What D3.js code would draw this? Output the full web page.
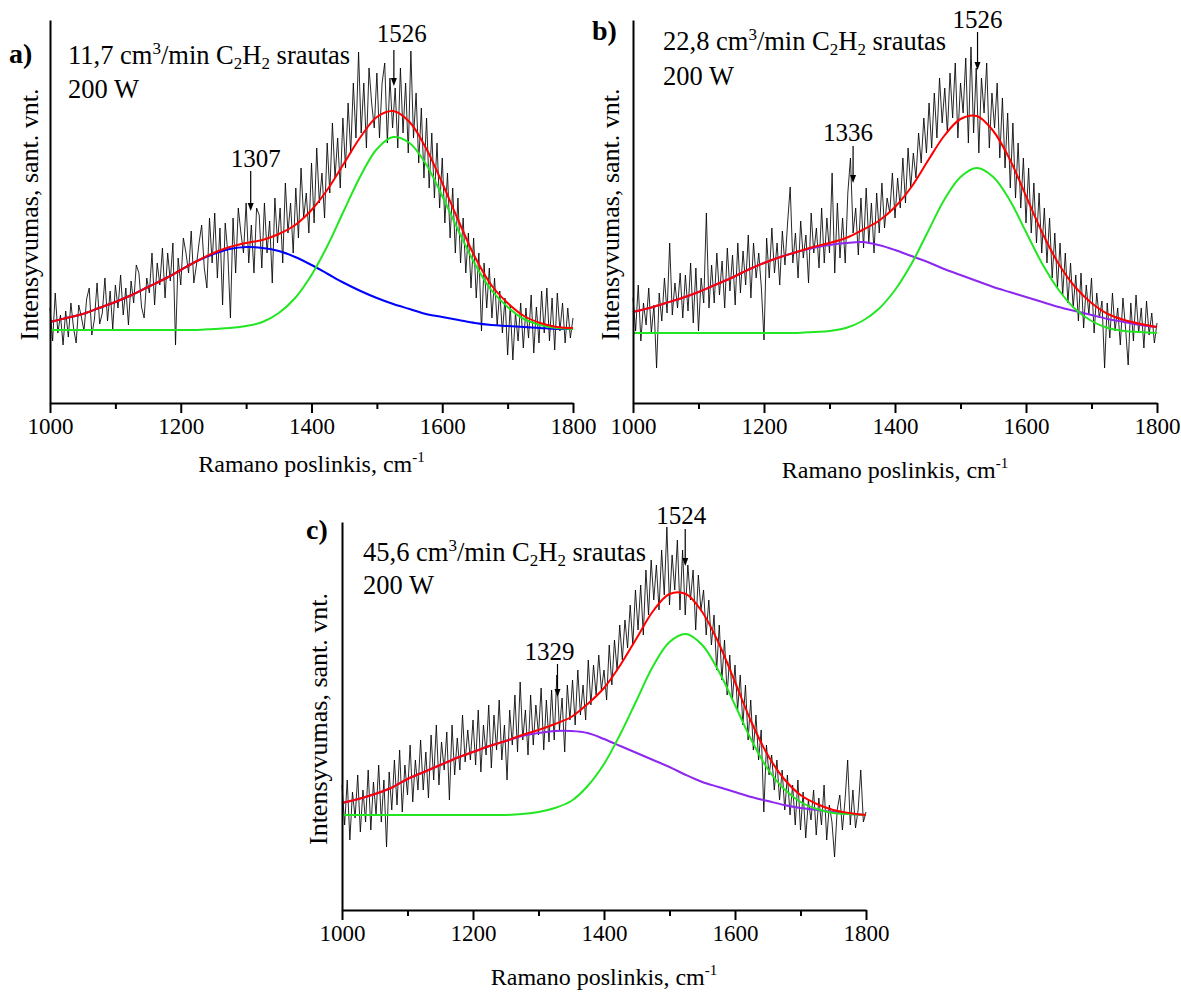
<!DOCTYPE html>
<html>
<head>
<meta charset="utf-8">
<script src="https://cdn.jsdelivr.net/npm/d3@7"></script>
<style>
  body { margin: 0; background: #fff; }
  svg { display: block; }
</style>
</head>
<body>
<svg id="chart" width="1181" height="994"></svg>
<script>
// Raman shift grid of the measured spectra (cm-1) and of the fitted curves
const spectrumShift = d3.range(1000, 1801, 4);
const fitShift = [1000, 1025, 1050, 1075, 1100, 1125, 1150, 1175, 1200, 1225,
                  1250, 1275, 1300, 1325, 1350, 1375, 1400, 1425, 1450, 1475,
                  1500, 1525, 1550, 1575, 1600, 1625, 1650, 1675, 1700, 1725,
                  1750, 1775, 1800];

// a) 11,7 cm3/min
const spectrumA = [
  95, 62, 110, 70, 88, 58, 92, 66, 100, 75,
  60, 98, 86, 72, 104, 115, 68, 84, 120, 79,
  90, 125, 82, 112, 74, 118, 95, 128, 88, 115,
  78, 122, 100, 138, 130, 96, 85, 125, 110, 150,
  98, 140, 118, 155, 105, 150, 122, 160, 58, 145,
  118, 165, 150, 130, 172, 120, 138, 160, 178, 135,
  115, 185, 140, 190, 125, 175, 98, 180, 150, 85,
  185, 130, 195, 170, 150, 200, 140, 178, 130, 195,
  188, 135, 200, 150, 182, 120, 205, 160, 195, 140,
  220, 170, 200, 150, 215, 165, 235, 185, 210, 170,
  240, 180, 255, 200, 230, 185, 260, 210, 280, 225,
  265, 215, 285, 235, 300, 250, 320, 265, 351, 270,
  320, 255, 335, 300, 275, 330, 265, 320, 340, 260,
  325, 275, 315, 255, 335, 270, 320, 250, 352, 265,
  310, 240, 295, 225, 285, 215, 270, 205, 260, 195,
  245, 180, 230, 165, 215, 150, 205, 140, 185, 130,
  170, 115, 165, 105, 150, 72, 140, 95, 135, 85,
  125, 78, 112, 70, 105, 48, 98, 43, 90, 62,
  100, 55, 95, 65, 108, 50, 96, 60, 112, 70,
  115, 62, 105, 53, 110, 72, 100, 60, 95, 65,
  85
];
const band1A = [81, 85, 89, 95, 101, 108, 116, 124, 133, 142,
                149, 154, 156, 155, 152, 146, 138, 129, 120, 112,
                105, 99, 94, 89, 86, 83, 80, 78, 77, 76,
                75, 74, 74];
const band2A = [73, 73, 73, 73, 73, 73, 73, 73, 73, 73,
                74, 75, 77, 81, 90, 105, 128, 158, 193, 227,
                254, 266, 260, 239, 207, 172, 139, 113, 96, 84,
                78, 75, 74];
const sumA = [81, 85, 89, 95, 101, 108, 116, 124, 133, 142,
              150, 156, 160, 163, 169, 178, 193, 214, 240, 266,
              286, 292, 281, 255, 220, 182, 146, 118, 100, 87,
              80, 76, 75];
const peaksA = [1307, 1526];

// b) 22,8 cm3/min
const spectrumB = [
  105, 72, 118, 62, 100, 78, 115, 70, 98, 35,
  110, 82, 125, 90, 160, 88, 120, 95, 130, 85,
  128, 92, 140, 80, 135, 72, 125, 100, 190, 95,
  138, 100, 150, 108, 142, 95, 155, 112, 148, 98,
  160, 110, 152, 118, 168, 105, 160, 125, 150, 115,
  63, 165, 125, 175, 130, 160, 118, 172, 138, 180,
  216, 140, 170, 125, 182, 145, 168, 120, 190, 150,
  175, 135, 195, 140, 185, 150, 230, 130, 200, 145,
  185, 140, 210, 245, 170, 195, 148, 205, 155, 215,
  160, 200, 150, 210, 170, 220, 175, 205, 190, 230,
  185, 225, 195, 245, 200, 255, 215, 250, 225, 270,
  240, 285, 250, 300, 255, 310, 265, 325, 280, 315,
  270, 330, 285, 340, 265, 320, 290, 345, 260, 356,
  270, 335, 250, 325, 290, 340, 255, 310, 275, 320,
  245, 305, 235, 290, 215, 280, 205, 260, 195, 245,
  180, 235, 170, 220, 160, 210, 150, 195, 140, 185,
  125, 170, 115, 160, 108, 150, 100, 140, 95, 128,
  82, 130, 75, 118, 88, 125, 70, 110, 85, 102,
  35, 100, 65, 110, 72, 95, 58, 105, 75, 38,
  100, 62, 108, 70, 95, 55, 102, 68, 90, 60,
  80
];
const band1B = [91, 95, 100, 105, 111, 118, 125, 133, 140, 146,
                151, 155, 158, 160, 161, 158, 153, 147, 141, 134,
                128, 122, 116, 111, 106, 101, 96, 92, 88, 84,
                81, 78, 76];
const band2B = [70, 70, 70, 70, 70, 70, 70, 70, 70, 70,
                70, 71, 72, 75, 82, 94, 113, 139, 171, 203,
                226, 235, 226, 203, 171, 139, 113, 94, 82, 75,
                72, 71, 70];
const sumB = [91, 95, 100, 105, 111, 118, 125, 133, 140, 146,
              151, 156, 160, 165, 173, 182, 196, 216, 242, 267,
              284, 287, 272, 244, 207, 170, 139, 116, 100, 89,
              83, 79, 76];
const peaksB = [1336, 1526];

// c) 45,6 cm3/min
const spectrumC = [
  125, 85, 130, 70, 118, 92, 135, 78, 120, 88,
  140, 80, 128, 95, 145, 88, 130, 63, 138, 100,
  150, 105, 160, 98, 145, 115, 165, 108, 150, 120,
  170, 120, 158, 112, 175, 130, 185, 125, 168, 140,
  178, 110, 185, 135, 172, 140, 195, 148, 180, 150,
  190, 145, 200, 138, 185, 155, 205, 142, 195, 160,
  210, 150, 185, 130, 200, 165, 215, 158, 228, 170,
  200, 155, 215, 165, 205, 175, 222, 160, 210, 168,
  220, 170, 235, 180, 212, 158, 225, 190, 230, 185,
  240, 195, 225, 190, 250, 205, 245, 215, 255, 220,
  240, 210, 265, 225, 270, 240, 285, 250, 290, 262,
  305, 265, 320, 280, 325, 275, 340, 295, 350, 310,
  345, 300, 360, 315, 383, 305, 355, 320, 370, 300,
  360, 295, 345, 310, 340, 280, 335, 300, 320, 275,
  310, 265, 295, 240, 285, 230, 270, 215, 255, 210,
  245, 200, 235, 185, 225, 170, 210, 160, 195, 150,
  180, 98, 165, 135, 155, 120, 150, 110, 140, 100,
  135, 95, 125, 85, 130, 80, 118, 72, 110, 90,
  120, 75, 112, 85, 125, 70, 105, 88, 53, 100,
  115, 80, 110, 150, 85, 120, 82, 100, 140, 88,
  98
];
const band1C = [107, 111, 116, 122, 131, 138, 145, 152, 158, 164,
                169, 174, 177, 179, 179, 177, 171, 164, 157, 150,
                143, 135, 128, 123, 118, 113, 109, 105, 102, 100,
                98, 96, 95];
const band2C = [95, 95, 95, 95, 95, 95, 95, 95, 95, 95,
                95, 96, 98, 102, 109, 124, 146, 176, 210, 244,
                268, 276, 265, 239, 205, 170, 141, 121, 108, 101,
                97, 96, 95];
const sumC = [107, 111, 116, 122, 131, 138, 145, 152, 158, 164,
              169, 175, 180, 186, 193, 206, 222, 245, 272, 299,
              316, 316, 298, 267, 228, 188, 155, 131, 115, 106,
              100, 97, 95];
const peaksC = [1329, 1524];

const flowLabels = ["11,7", "22,8", "45,6"];
const panelLetters = ["a)", "b)", "c)"];
const majorTicks = [1000, 1200, 1400, 1600, 1800];
const minorTicks = [1100, 1300, 1500, 1700];

const serif = "'Liberation Serif', 'Times New Roman', serif";
const svg = d3.select("#chart");

// layout of each panel (pixels)
const panels = [
  { left: 50, right: 573, top: 20, bottom: 403, yMax: 383,
    spectrum: spectrumA, band1: band1A, band2: band2A, sum: sumA, band1Color: "#0000ff",
    peaks: peaksA, letter: [9, 63], info: [68, 64, 98],
    peakLayout: [{ dx: 5, label: 167, y1: 171, y2: 211 }, { dx: 8, label: 42, y1: 50, y2: 86 }],
    xTitle: 472, yTitle: 38 },
  { left: 633, right: 1157, top: 20, bottom: 403, yMax: 383,
    spectrum: spectrumB, band1: band1B, band2: band2B, sum: sumB, band1Color: "#8c28f0",
    peaks: peaksB, letter: [592, 40], info: [663, 50, 85],
    peakLayout: [{ dx: -5, label: 141, y1: 146, y2: 183 }, { dx: 0, label: 28, y1: 32, y2: 70 }],
    xTitle: 478, yTitle: 619 },
  { left: 342, right: 866, top: 522, bottom: 910, yMax: 388,
    spectrum: spectrumC, band1: band1C, band2: band2C, sum: sumC, band1Color: "#8c28f0",
    peaks: peaksC, letter: [306, 539], info: [363, 561, 594],
    peakLayout: [{ dx: -8, label: 660, y1: 664, y2: 697 }, { dx: -4, label: 524, y1: 529, y2: 566 }],
    xTitle: 985, yTitle: 327 }
];

panels.forEach((p, i) => {
  const x = d3.scaleLinear().domain([1000, 1800]).range([p.left, p.right]);
  const y = d3.scaleLinear().domain([0, p.yMax]).range([p.bottom, p.top]);
  const g = svg.append("g");

  // measured spectrum
  const spectrumLine = d3.line()
    .x((d, k) => x(spectrumShift[k]))
    .y(d => y(d));
  g.append("path")
    .datum(p.spectrum)
    .attr("d", spectrumLine)
    .attr("fill", "none")
    .attr("stroke", "#000")
    .attr("stroke-width", 0.85);

  // fitted components and their sum
  const fitLine = d3.line()
    .x((d, k) => x(fitShift[k]))
    .y(d => y(d))
    .curve(d3.curveCatmullRom.alpha(0.5));
  [[p.band1, p.band1Color], [p.band2, "#22e622"], [p.sum, "#ff0000"]].forEach(([vals, color]) => {
    g.append("path")
      .datum(vals)
      .attr("d", fitLine)
      .attr("fill", "none")
      .attr("stroke", color)
      .attr("stroke-width", 2);
  });

  // axes
  const xAxis = g.append("g")
    .attr("transform", `translate(0,${p.bottom})`)
    .call(d3.axisBottom(x).tickValues(majorTicks).tickSize(10).tickSizeOuter(0).tickFormat(d3.format("d")));
  g.append("g")
    .attr("transform", `translate(0,${p.bottom})`)
    .call(d3.axisBottom(x).tickValues(minorTicks).tickSize(6).tickSizeOuter(0).tickFormat(""))
    .select(".domain").remove();
  xAxis.selectAll("text")
    .attr("y", 31).attr("dy", null)
    .style("font", `23px ${serif}`)
    .attr("fill", "#000");
  g.append("g")
    .attr("transform", `translate(${p.left},0)`)
    .call(d3.axisLeft(y).tickValues([]).tickSizeOuter(0));
  g.selectAll(".domain, .tick line").attr("stroke", "#000").attr("stroke-width", 2);

  // axis titles
  const xt = g.append("text")
    .attr("x", (p.left + p.right) / 2)
    .attr("y", p.xTitle)
    .attr("text-anchor", "middle")
    .style("font", `24px ${serif}`);
  xt.append("tspan").text("Ramano poslinkis, cm");
  xt.append("tspan").attr("dy", -10).style("font-size", "15px").text("-1");

  g.append("text")
    .attr("transform", `translate(${p.yTitle},${(p.top + p.bottom) / 2 + 3}) rotate(-90)`)
    .attr("text-anchor", "middle")
    .style("font", `26px ${serif}`)
    .text("Intensyvumas, sant. vnt.");

  // panel letter
  g.append("text")
    .attr("x", p.letter[0]).attr("y", p.letter[1])
    .style("font", `bold 28px ${serif}`)
    .text(panelLetters[i]);

  // conditions
  const info = g.append("text")
    .attr("x", p.info[0]).attr("y", p.info[1])
    .style("font", `26.5px ${serif}`);
  info.append("tspan").text(flowLabels[i] + " cm");
  info.append("tspan").attr("dy", -10).style("font-size", "17px").text("3");
  info.append("tspan").attr("dy", 10).text("/min C");
  info.append("tspan").attr("dy", 5).style("font-size", "17px").text("2");
  info.append("tspan").attr("dy", -5).text("H");
  info.append("tspan").attr("dy", 5).style("font-size", "17px").text("2");
  info.append("tspan").attr("dy", -5).text(" srautas");
  g.append("text")
    .attr("x", p.info[0]).attr("y", p.info[2])
    .style("font", `26.5px ${serif}`)
    .text("200 W");

  // peak markers
  p.peaks.forEach((shift, k) => {
    const L = p.peakLayout[k];
    const px = x(shift);
    g.append("text")
      .attr("x", px + L.dx).attr("y", L.label)
      .attr("text-anchor", "middle")
      .style("font", `25px ${serif}`)
      .text(shift);
    g.append("line")
      .attr("x1", px).attr("x2", px)
      .attr("y1", L.y1).attr("y2", L.y2 - 5)
      .attr("stroke", "#000").attr("stroke-width", 1.2);
    g.append("path")
      .attr("d", `M${px - 3},${L.y2 - 8}L${px + 3},${L.y2 - 8}L${px},${L.y2}Z`)
      .attr("fill", "#000");
  });
});
</script>
</body>
</html>
